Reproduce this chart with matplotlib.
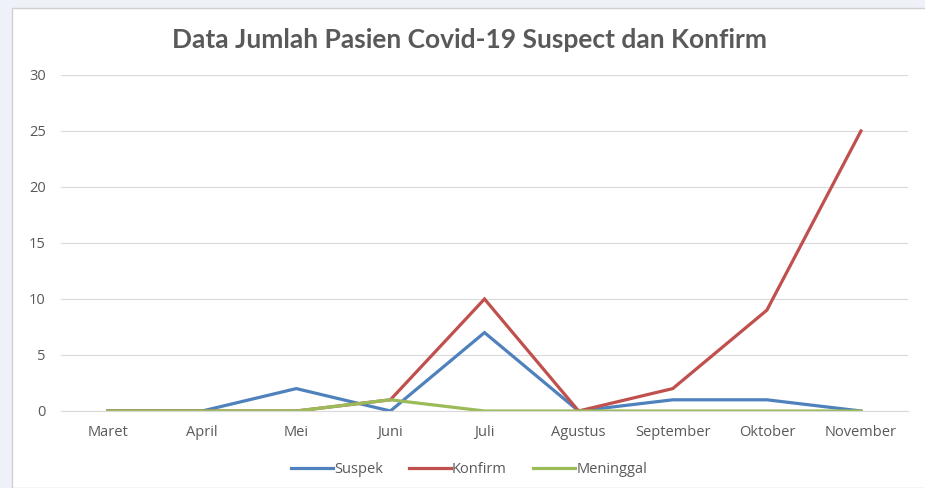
import matplotlib.pyplot as plt
from matplotlib.patches import Rectangle

bulan = ['Maret', 'April', 'Mei', 'Juni', 'Juli', 'Agustus',
         'September', 'Oktober', 'November']
suspek = [0, 0, 2, 0, 7, 0, 1, 1, 0]
konfirm = [0, 0, 0, 1, 10, 0, 2, 9, 25]
meninggal = [0, 0, 0, 1, 0, 0, 0, 0, 0]
y_ticks = [0, 5, 10, 15, 20, 25, 30]

plt.rcParams['font.family'] = ['Open Sans', 'DejaVu Sans']

fig = plt.figure(figsize=(9.25, 4.88), dpi=100)
fig.patch.set_facecolor('#eef1f7')
# white chart frame like the excel chart area
fig.patches.append(Rectangle((12 / 925, 0), 1, 1 - 8 / 488, transform=fig.transFigure,
                             facecolor='white', edgecolor='#d0d0d0', lw=1, zorder=0))

ax = fig.add_axes([61 / 925, 77 / 488, 847 / 925, 336 / 488])
ax.set_zorder(2)
ax.set_facecolor('white')
x = list(range(len(bulan)))
ax.plot(x, suspek, color='#4f81bd', lw=2.3, label='Suspek', solid_joinstyle='miter')
ax.plot(x, konfirm, color='#c0504d', lw=2.3, label='Konfirm', solid_joinstyle='miter')
ax.plot(x, meninggal, color='#9bbb59', lw=2.3, label='Meninggal', solid_joinstyle='miter')

ax.set_xlim(-0.5, len(bulan) - 0.5)
ax.set_ylim(0, 30)
ax.set_yticks(y_ticks)
ax.set_xticks(x)
ax.set_xticklabels(bulan)
ax.grid(axis='y', color='#d9d9d9', lw=0.8)
ax.set_axisbelow(True)
for s in ['top', 'right', 'left']:
    ax.spines[s].set_visible(False)
ax.spines['bottom'].set_color('#d9d9d9')
ax.tick_params(length=0, labelsize=10.5, labelcolor='#595959', pad=10)
ax.tick_params(axis='y', pad=11)

fig.text(0.508, 0.918, 'Data Jumlah Pasien Covid-19 Suspect dan Konfirm', ha='center',
         va='center', fontsize=19, fontweight='bold', color='#595959',
         family=['Lato', 'DejaVu Sans'])

leg = fig.legend(loc='center', bbox_to_anchor=(0.507, 0.037), ncol=3, frameon=False,
                 fontsize=10.5, labelcolor='#595959', handlelength=2.9, handletextpad=0.05,
                 columnspacing=1.8)
leg.set_zorder(3)

plt.savefig('out.png', dpi=100, facecolor=fig.get_facecolor())
